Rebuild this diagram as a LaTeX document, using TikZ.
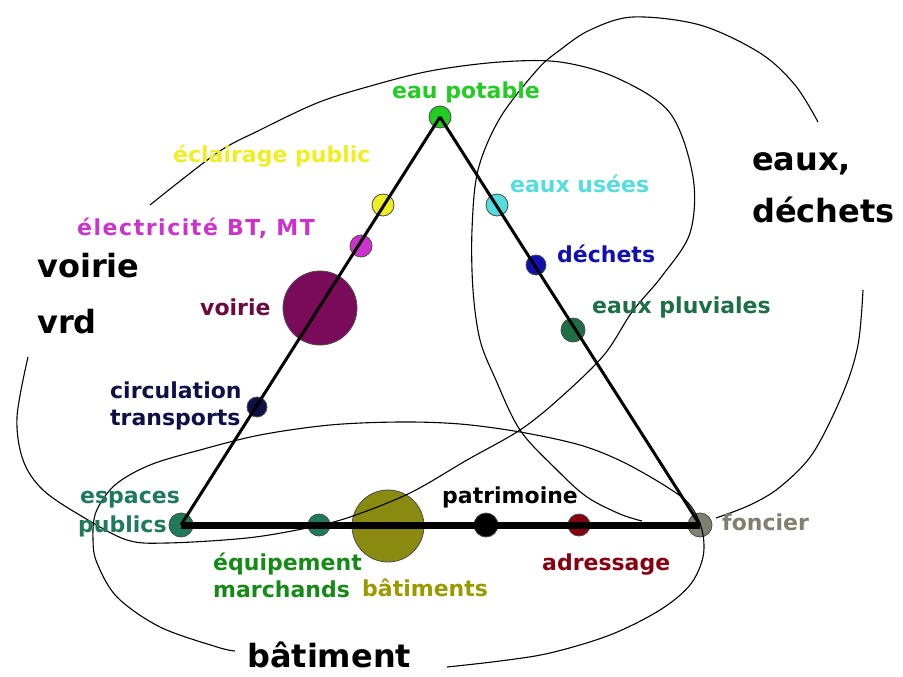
\documentclass[tikz,border=0pt]{standalone}
\usepackage{fontspec}
\setmainfont{DejaVu Sans}
\definecolor{cGreen}{HTML}{22CC22}
\definecolor{cYellow}{HTML}{EEEE22}
\definecolor{cMagenta}{HTML}{CC33CC}
\definecolor{cPurple}{HTML}{7A0A5A}
\definecolor{cPurpleTxt}{HTML}{6A0A40}
\definecolor{cNavy}{HTML}{101048}
\definecolor{cCyan}{HTML}{55DDDD}
\definecolor{cBlue}{HTML}{1010B0}
\definecolor{cPluv}{HTML}{1E6E46}
\definecolor{cTeal}{HTML}{1E7A5A}
\definecolor{cEquip}{HTML}{168A16}
\definecolor{cOlive}{HTML}{8A8A10}
\definecolor{cOliveTxt}{HTML}{9A9A00}
\definecolor{cRed}{HTML}{880010}
\definecolor{cGray}{HTML}{808070}
\tikzset{
  dot/.style={circle, inner sep=0pt, minimum size=22pt, draw=black!70, line width=0.8pt},
  bigdot/.style={circle, inner sep=0pt, minimum size=74pt, draw=black!70, line width=0.8pt},
  lab/.style={anchor=base west, inner sep=0pt, font=\fontsize{22}{24}\selectfont\bfseries},
  biglab/.style={anchor=base west, inner sep=0pt, font=\fontsize{32}{34}\selectfont\bfseries},
  side/.style={line width=3pt, black},
  base/.style={line width=7pt, black},
  zone/.style={line width=1.1pt, black},
}
\begin{document}
\begin{tikzpicture}[x=1pt, y=-1pt]
\useasboundingbox (0,0) rectangle (903,677);
\fill[white] (0,0) rectangle (903,677);

% dots
\node[dot, fill=cGreen] (eaupot) at (440,117) {};
\node[dot, fill=cYellow] (eclair) at (383,205) {};
\node[dot, fill=cMagenta] (elec) at (361,246) {};
\node[bigdot, fill=cPurple] (voirie) at (320,308) {};
\node[dot, fill=cNavy, minimum size=20pt] (circ) at (257,407) {};
\node[dot, fill=cCyan] (usees) at (497,205) {};
\node[dot, fill=cBlue, minimum size=20pt] (dechets) at (536,265) {};
\node[dot, fill=cPluv, minimum size=24pt] (pluv) at (573,330) {};
\node[dot, fill=cTeal, minimum size=24pt] (espaces) at (181,525) {};
\node[dot, fill=cTeal] (equip) at (319,525) {};
\node[bigdot, fill=cOlive, minimum size=72pt] (batim) at (388,526) {};
\node[dot, fill=black, minimum size=24pt] (patri) at (486,525) {};
\node[dot, fill=cRed] (adress) at (579,525) {};
\node[dot, fill=cGray, minimum size=24pt] (foncier) at (700,525) {};

% triangle
\draw[side] (eaupot.center) -- (espaces.center);
\draw[side] (eaupot.center) -- (foncier.center);
\draw[base] (espaces.center) -- (foncier.center);

% zones
\draw[zone] plot[smooth, tension=0.55] coordinates {
 (150,205) (217,153) (260,130) (317,103) (367,87) (430,71) (500,62) (560,62)
 (617,78) (670,113) (693,177) (690,233) (662,276) (632,312) (604,355)
 (560,398) (520,430) (467,460) (410,493) (350,517) (307,528) (247,538)
 (167,543) (127,540) (83,517) (43,490) (23,460) (17,417) (28,357)};
\draw[zone] plot[smooth, tension=0.55] coordinates {
 (642,521) (620,514) (587,497) (557,470) (520,430) (495,378) (480,340)
 (473,290) (472,230) (478,170) (500,118) (537,70) (560,50) (590,30) (633,17)
 (700,25) (760,53) (795,85) (818,122)};
\draw[zone] plot[smooth, tension=0.55] coordinates {
 (863,290) (858,345) (843,393) (813,453) (780,487) (750,505) (716,518)};
\draw[zone] plot[smooth, tension=0.55] coordinates {
 (447,667) (500,661) (550,653) (610,635) (660,610) (690,585) (703,557)
 (702,530) (690,505) (667,487) (623,462) (580,445) (520,432) (460,424)
 (400,422) (330,425) (260,435) (200,450) (150,465) (115,485) (96,512)
 (93,540) (97,563) (117,597) (160,627) (217,647) (235,651)};

% small labels
\node[lab, text=cGreen] (t-eaupot) at (392,99) {eau potable};
\node[lab, text=cYellow] (t-eclair) at (173,162) {éclairage public};
\node[lab, text=cMagenta] (t-elec) at (77,235) {\addfontfeatures{LetterSpace=7}électricité BT, MT};
\node[lab, text=cPurpleTxt] (t-voirie) at (200,315) {voirie};
\node[lab, text=cNavy] (t-circ1) at (110,398) {circulation};
\node[lab, text=cNavy] (t-circ2) at (110,425) {transports};
\node[lab, text=cCyan] (t-usees) at (510,192) {eaux usées};
\node[lab, text=cBlue] (t-dechets) at (557,262) {déchets};
\node[lab, text=cPluv] (t-pluv) at (592,313) {eaux pluviales};
\node[lab, text=cTeal] (t-esp1) at (80,503) {espaces};
\node[lab, text=cTeal] (t-esp2) at (78,532) {publics};
\node[lab, text=cEquip] (t-eq1) at (213,570) {équipement};
\node[lab, text=cEquip] (t-eq2) at (213,597) {marchands};
\node[lab, text=cOliveTxt] (t-batim) at (362,596) {bâtiments};
\node[lab, text=black] (t-patri) at (442,503) {patrimoine};
\node[lab, text=cRed] (t-adress) at (542,570) {adressage};
\node[lab, text=cGray] (t-foncier) at (722,530) {foncier};

% big labels
\node[biglab] (g-voirie1) at (37,277) {voirie};
\node[biglab] (g-voirie2) at (37,333) {vrd};
\node[biglab] (g-eaux1) at (752,170) {eaux,};
\node[biglab] (g-eaux2) at (752,222) {déchets};
\node[biglab] (g-batim) at (247,667) {bâtiment};
\end{tikzpicture}
\end{document}
